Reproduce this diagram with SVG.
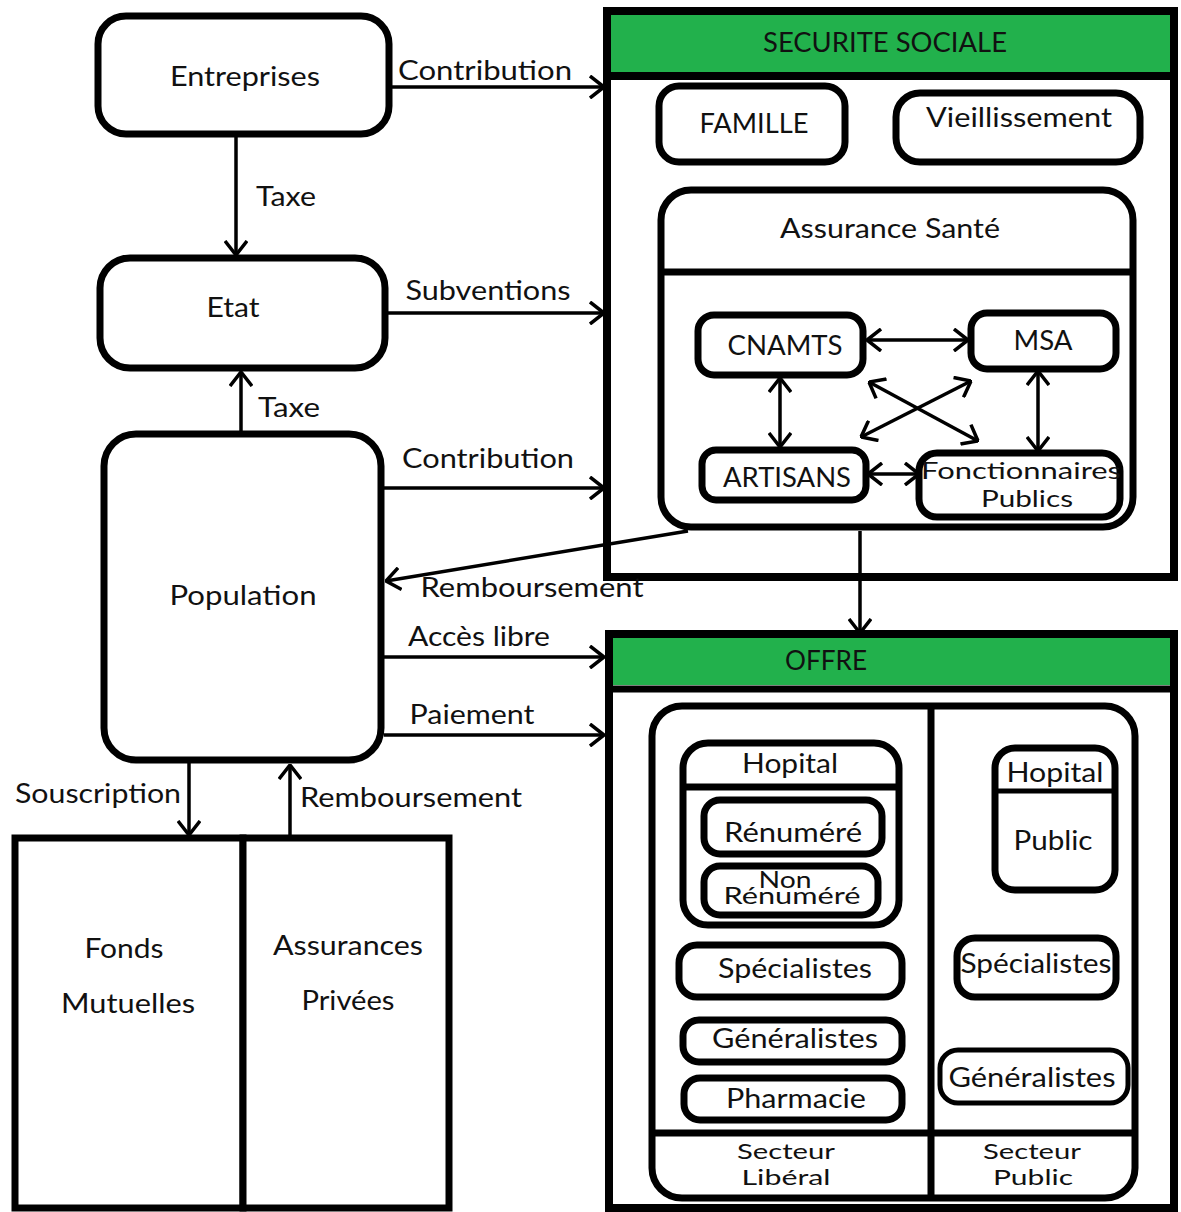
<svg xmlns="http://www.w3.org/2000/svg" width="1181" height="1212" viewBox="0 0 1181 1212">
<style>
  .box { fill: #ffffff; stroke: #000; stroke-width: 7; }
  .outer { fill: #ffffff; stroke: #000; stroke-width: 8; }
  .sep { stroke: #000; stroke-width: 7; fill: none; }
  .hdr { fill: #22b14c; }
  .conn { stroke: #000; stroke-width: 3.5; fill: none; }
  text { font-family: Lato, "Liberation Sans", sans-serif; font-size: 26px; fill: #111; text-anchor: middle; }
  .sm { font-size: 24px; }
  .xs { font-size: 22px; }
</style>
<defs>
  <marker id="arr" viewBox="0 0 16 24" refX="15" refY="12" markerWidth="16" markerHeight="24" markerUnits="userSpaceOnUse" orient="auto-start-reverse">
    <path d="M1,1 L15,12 L1,23" fill="none" stroke="#000" stroke-width="3.5"/>
  </marker>
</defs>
<rect width="1181" height="1212" fill="#ffffff"/>

<g id="securite-sociale">
  <rect class="outer" x="607" y="11" width="567" height="566"/>
  <rect class="hdr" x="611" y="15" width="559" height="57"/>
  <line class="sep" x1="607" y1="76" x2="1174" y2="76" style="stroke-width:8"/>
  <text x="885" y="52" textLength="244" lengthAdjust="spacingAndGlyphs">SECURITE SOCIALE</text>
</g>
<g id="famille">
  <rect class="box" x="659" y="86" width="186" height="76" rx="20"/>
  <text x="754" y="133" textLength="109" lengthAdjust="spacingAndGlyphs">FAMILLE</text>
</g>
<g id="vieillissement">
  <rect class="box" x="896" y="93" width="244" height="69" rx="24"/>
  <text x="1019" y="127" textLength="186" lengthAdjust="spacingAndGlyphs">Vieillissement</text>
</g>
<g id="assurance-sante">
  <rect class="box" x="661" y="190" width="472" height="337" rx="30"/>
  <line class="sep" x1="661" y1="272" x2="1133" y2="272"/>
  <text x="890" y="238" textLength="220" lengthAdjust="spacingAndGlyphs">Assurance Santé</text>
</g>
<g id="cnamts">
  <rect class="box" x="698" y="315" width="165" height="60" rx="16"/>
  <text x="785" y="355" textLength="115" lengthAdjust="spacingAndGlyphs">CNAMTS</text>
</g>
<g id="msa">
  <rect class="box" x="971" y="313" width="145" height="56" rx="16"/>
  <text x="1043" y="350" textLength="59" lengthAdjust="spacingAndGlyphs">MSA</text>
</g>
<g id="artisans">
  <rect class="box" x="702" y="450" width="164" height="50" rx="14"/>
  <text x="787" y="487" textLength="128" lengthAdjust="spacingAndGlyphs">ARTISANS</text>
</g>
<g id="fonctionnaires">
  <rect class="box" x="919" y="453" width="201" height="64" rx="18"/>
  <text class="sm" x="1021" y="479" textLength="200" lengthAdjust="spacingAndGlyphs">Fonctionnaires</text>
  <text class="sm" x="1027" y="507" textLength="92" lengthAdjust="spacingAndGlyphs">Publics</text>
</g>

<g id="offre">
  <rect class="outer" x="609" y="634" width="565" height="574"/>
  <rect class="hdr" x="613" y="638" width="557" height="47"/>
  <line class="sep" x1="609" y1="689" x2="1174" y2="689"/>
  <text x="826" y="670" textLength="82" lengthAdjust="spacingAndGlyphs">OFFRE</text>
</g>
<g id="secteurs">
  <rect class="box" x="652" y="706" width="483" height="492" rx="30"/>
  <line class="sep" x1="931" y1="706" x2="931" y2="1198"/>
  <line class="sep" x1="652" y1="1133" x2="1135" y2="1133"/>
  <text class="xs" x="786" y="1159" textLength="98" lengthAdjust="spacingAndGlyphs">Secteur</text>
  <text class="xs" x="786" y="1185" textLength="89" lengthAdjust="spacingAndGlyphs">Libéral</text>
  <text class="xs" x="1032" y="1159" textLength="98" lengthAdjust="spacingAndGlyphs">Secteur</text>
  <text class="xs" x="1033" y="1185" textLength="80" lengthAdjust="spacingAndGlyphs">Public</text>
</g>
<g id="hopital-liberal">
  <rect class="box" x="683" y="743" width="216" height="182" rx="25"/>
  <line class="sep" x1="683" y1="787" x2="899" y2="787"/>
  <text x="790" y="773" textLength="96" lengthAdjust="spacingAndGlyphs">Hopital</text>
</g>
<g id="renumere">
  <rect class="box" x="704" y="800" width="178" height="54" rx="16"/>
  <text x="793" y="842" textLength="138" lengthAdjust="spacingAndGlyphs">Rénuméré</text>
</g>
<g id="non-renumere">
  <rect class="box" x="704" y="866" width="174" height="49" rx="16"/>
  <text class="sm" x="785" y="888" textLength="53" lengthAdjust="spacingAndGlyphs">Non</text>
  <text class="sm" x="792" y="904" textLength="137" lengthAdjust="spacingAndGlyphs">Rénuméré</text>
</g>
<g id="specialistes-liberal">
  <rect class="box" x="679" y="945" width="223" height="52" rx="18"/>
  <text x="795" y="978" textLength="154" lengthAdjust="spacingAndGlyphs">Spécialistes</text>
</g>
<g id="generalistes-liberal">
  <rect class="box" x="683" y="1020" width="219" height="42" rx="16"/>
  <text x="795" y="1048" textLength="166" lengthAdjust="spacingAndGlyphs">Généralistes</text>
</g>
<g id="pharmacie">
  <rect class="box" x="684" y="1078" width="218" height="42" rx="16"/>
  <text x="796" y="1108" textLength="140" lengthAdjust="spacingAndGlyphs">Pharmacie</text>
</g>
<g id="hopital-public">
  <rect class="box" x="995" y="748" width="120" height="142" rx="20"/>
  <line class="sep" x1="995" y1="791" x2="1115" y2="791" style="stroke-width:5"/>
  <text x="1055" y="782" textLength="97" lengthAdjust="spacingAndGlyphs">Hopital</text>
  <text x="1053" y="850" textLength="79" lengthAdjust="spacingAndGlyphs">Public</text>
</g>
<g id="specialistes-public">
  <rect class="box" x="957" y="938" width="159" height="59" rx="18"/>
  <text x="1036" y="973" textLength="151" lengthAdjust="spacingAndGlyphs">Spécialistes</text>
</g>
<g id="generalistes-public">
  <rect class="box" x="940" y="1050" width="188" height="53" rx="18" style="stroke-width:5"/>
  <text x="1032" y="1087" textLength="167" lengthAdjust="spacingAndGlyphs">Généralistes</text>
</g>

<g id="entreprises">
  <rect class="box" x="98" y="16" width="291" height="118" rx="28"/>
  <text x="245" y="86" textLength="150" lengthAdjust="spacingAndGlyphs">Entreprises</text>
</g>
<g id="etat">
  <rect class="box" x="100" y="258" width="285" height="110" rx="30"/>
  <text x="233" y="317" textLength="53" lengthAdjust="spacingAndGlyphs">Etat</text>
</g>
<g id="population">
  <rect class="box" x="104" y="434" width="277" height="326" rx="32"/>
  <text x="243" y="605" textLength="147" lengthAdjust="spacingAndGlyphs">Population</text>
</g>
<g id="fonds-mutuelles">
  <rect class="box" x="15" y="838" width="228" height="370"/>
  <text x="124" y="958" textLength="79" lengthAdjust="spacingAndGlyphs">Fonds</text>
  <text x="128" y="1013" textLength="134" lengthAdjust="spacingAndGlyphs">Mutuelles</text>
</g>
<g id="assurances-privees">
  <rect class="box" x="243" y="838" width="206" height="370"/>
  <text x="348" y="955" textLength="150" lengthAdjust="spacingAndGlyphs">Assurances</text>
  <text x="348" y="1010" textLength="93" lengthAdjust="spacingAndGlyphs">Privées</text>
</g>

<g id="connectors">
  <line class="conn" x1="389" y1="87" x2="604" y2="87" marker-end="url(#arr)"/>
  <text x="485" y="80" textLength="174" lengthAdjust="spacingAndGlyphs">Contribution</text>
  <line class="conn" x1="236" y1="137" x2="236" y2="255" marker-end="url(#arr)"/>
  <text x="286" y="206" textLength="60" lengthAdjust="spacingAndGlyphs">Taxe</text>
  <line class="conn" x1="387" y1="313" x2="604" y2="313" marker-end="url(#arr)"/>
  <text x="488" y="300" textLength="165" lengthAdjust="spacingAndGlyphs">Subventions</text>
  <line class="conn" x1="241" y1="431" x2="241" y2="372" marker-end="url(#arr)"/>
  <text x="289" y="417" textLength="62" lengthAdjust="spacingAndGlyphs">Taxe</text>
  <line class="conn" x1="384" y1="488" x2="604" y2="488" marker-end="url(#arr)"/>
  <text x="488" y="468" textLength="172" lengthAdjust="spacingAndGlyphs">Contribution</text>
  <line class="conn" x1="688" y1="531" x2="386" y2="581" marker-end="url(#arr)"/>
  <text x="532" y="597" textLength="223" lengthAdjust="spacingAndGlyphs">Remboursement</text>
  <line class="conn" x1="384" y1="657" x2="604" y2="657" marker-end="url(#arr)"/>
  <text x="479" y="646" textLength="142" lengthAdjust="spacingAndGlyphs">Accès libre</text>
  <line class="conn" x1="384" y1="735" x2="604" y2="735" marker-end="url(#arr)"/>
  <text x="472" y="724" textLength="125" lengthAdjust="spacingAndGlyphs">Paiement</text>
  <line class="conn" x1="860" y1="531" x2="860" y2="633" marker-end="url(#arr)"/>
  <line class="conn" x1="189" y1="763" x2="189" y2="835" marker-end="url(#arr)"/>
  <text x="98" y="803" textLength="166" lengthAdjust="spacingAndGlyphs">Souscription</text>
  <line class="conn" x1="290" y1="835" x2="290" y2="765" marker-end="url(#arr)"/>
  <text x="411" y="807" textLength="222" lengthAdjust="spacingAndGlyphs">Remboursement</text>
  <line class="conn" x1="867" y1="340" x2="968" y2="340" marker-start="url(#arr)" marker-end="url(#arr)"/>
  <line class="conn" x1="780" y1="378" x2="780" y2="447" marker-start="url(#arr)" marker-end="url(#arr)"/>
  <line class="conn" x1="1038" y1="371" x2="1038" y2="451" marker-start="url(#arr)" marker-end="url(#arr)"/>
  <line class="conn" x1="868" y1="474" x2="919" y2="474" marker-start="url(#arr)" marker-end="url(#arr)"/>
  <line class="conn" x1="869" y1="382" x2="978" y2="441" marker-start="url(#arr)" marker-end="url(#arr)"/>
  <line class="conn" x1="861" y1="437" x2="971" y2="381" marker-start="url(#arr)" marker-end="url(#arr)"/>
</g>
</svg>
